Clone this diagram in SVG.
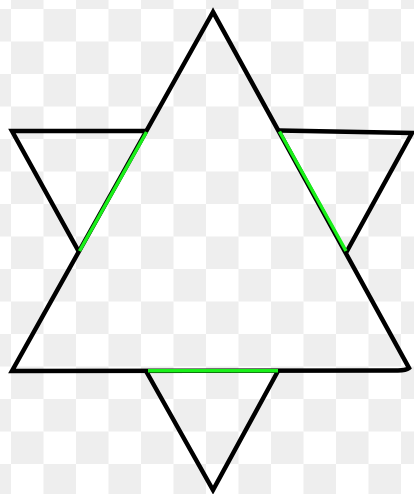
<svg xmlns="http://www.w3.org/2000/svg" width="414" height="494" viewBox="0 0 414 494">
  <defs>
    <pattern id="checker" x="11" y="9" width="65" height="65" patternUnits="userSpaceOnUse">
      <rect x="0" y="0" width="65" height="65" fill="#ffffff"/>
      <rect x="32.5" y="0" width="32.5" height="32.5" fill="#eeeeee"/>
      <rect x="0" y="32.5" width="32.5" height="32.5" fill="#eeeeee"/>
    </pattern>
  </defs>
  <style>
    .blk { fill: none; stroke: #000000; stroke-width: 4.5; stroke-linejoin: miter; stroke-miterlimit: 10; }
    .grn { fill: none; stroke: #19f019; stroke-width: 3.5; stroke-linecap: butt; }
  </style>
  <rect id="background" x="0" y="0" width="414" height="494" fill="url(#checker)"/>
  <g id="up-triangle">
    <path class="blk" d="M213,12 L12,371 L398,370.5 Q406,370.5 409,368 Z"/>
  </g>
  <g id="down-triangle">
    <path class="blk" d="M147,131 L12,131 L79,252"/>
    <path class="blk" d="M146,371 L213,490 L278,371"/>
    <path class="blk" d="M279,130.5 L412,133 L346.5,252"/>
  </g>
  <g id="inner-edges">
    <path class="grn" d="M146.5,132 L79.5,251"/>
    <path class="grn" d="M279.5,131.5 L346,251"/>
    <path class="grn" d="M148,370.8 L278,370.8"/>
  </g>
</svg>
